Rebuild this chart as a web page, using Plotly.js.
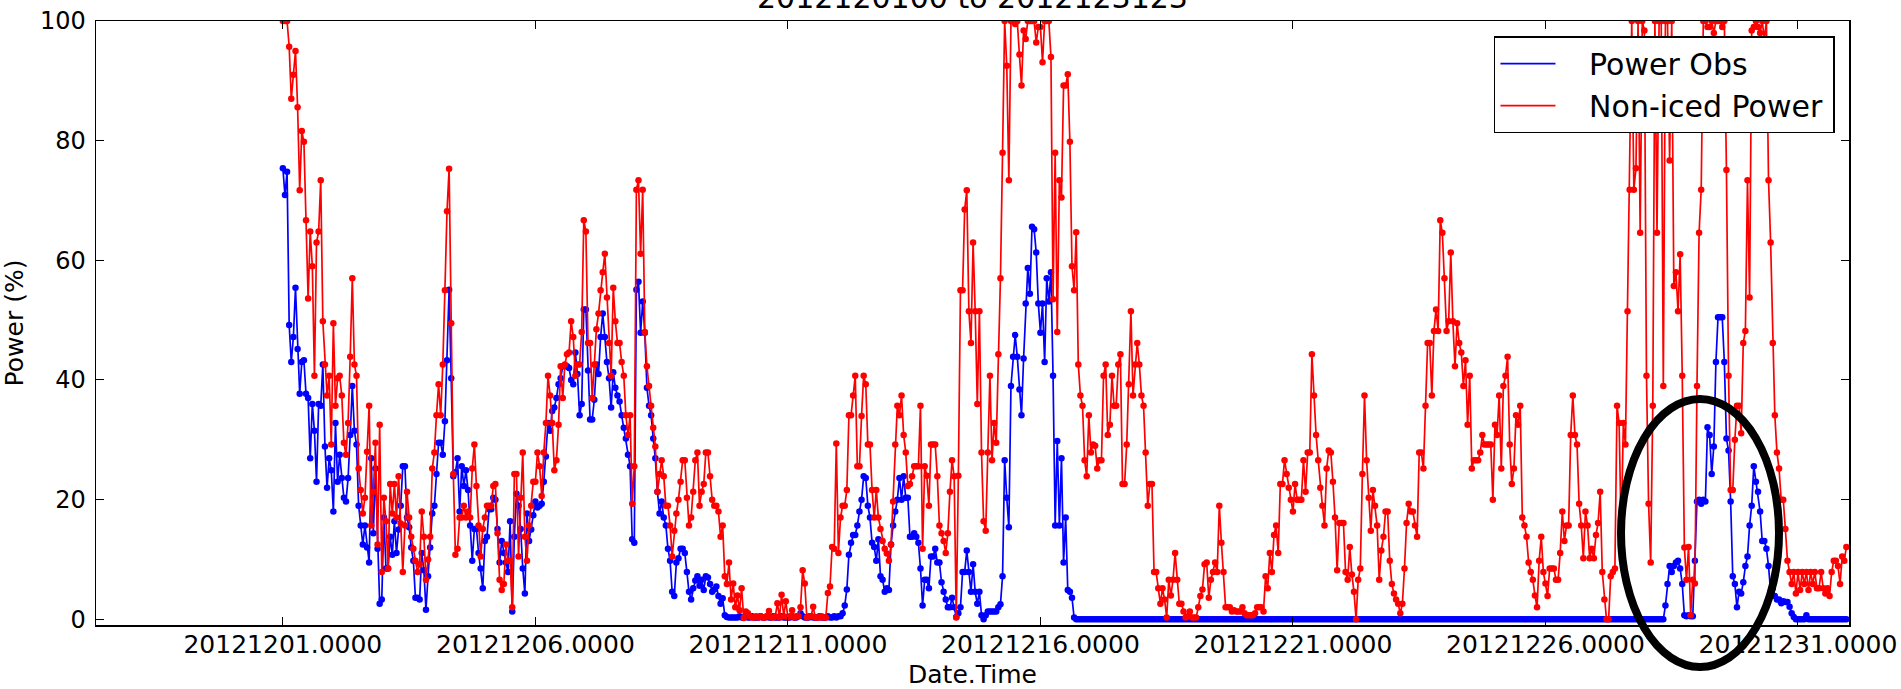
<!DOCTYPE html>
<html>
<head>
<meta charset="utf-8">
<script src="https://cdn.plot.ly/plotly-3.0.1.min.js"></script>
<style>
html, body { margin: 0; padding: 0; background: #ffffff; }
#chart { width: 1901px; height: 689px; }
</style>
</head>
<body>
<div id="chart"></div>
<script>
// ---------------- data ----------------
const days = [20121201,20121202,20121203,20121204,20121205,20121206,20121207,20121208,
  20121209,20121210,20121211,20121212,20121213,20121214,20121215,20121216,20121217,
  20121218,20121219,20121220,20121221,20121222,20121223,20121224,20121225,20121226,
  20121227,20121228,20121229,20121230,20121231];
const hoursPerDay = 24;

// Power Obs (%), one row per day, hourly 00..23
const powerObs = [
  75.4,70.9,74.8,49.2,43,47.2,55.4,45.2,37.7,43,43.3,37.7,37,26.9,36,31.5,23,36,35.7,42.6,28.9,22,26.9,24.9,
  18,32.8,23,27.5,23.6,20.3,19.7,23.6,30.8,39,31.5,29.2,19,15.7,12.5,15.7,12,9.5,26.9,14.4,25.2,11.8,2.6,3.3,
  17,8.5,8.5,13.8,10.8,16.4,11.1,15,19,25.6,25.6,17,15.4,12,9.8,3.6,3.6,3.3,11.1,8.2,1.6,7.2,12,17.7,
  19,24.3,29.5,29.5,27.5,33.1,43.3,55.1,40.3,23.9,24.6,26.9,18,25.6,22.3,24.9,21.6,15.7,9.8,15.1,15.1,11.1,8.5,5.2,
  13.1,13.8,18.4,18.4,20.3,20,15.1,9.5,13.1,11.1,9.5,7.9,16.4,1.3,13.8,21,19,15.1,8.5,4.3,17.7,13.1,15,17.4,
  19.7,18.7,19,19.3,23,27.2,32.8,31.5,34.8,35.4,37,39.3,40.3,42.3,42.3,42.3,42,40,39.3,44.6,41,34.1,36,51.8,
  51.8,41.6,33.4,33.4,36.7,42.6,41,47.2,51.1,47.2,43,40.3,35.4,41.3,38.7,37.4,36.4,34.1,32,30.2,27.5,25.6,13.4,12.8,
  55.1,56.4,47.9,53.1,47.9,38.7,35.7,34.1,30.2,26.9,21.3,17.7,19.7,17,15.7,11.8,9.8,4.6,3.9,9.5,10.2,11.8,11.8,11.1,
  7.9,4.6,3.3,5.2,6.5,7.2,5.6,6.6,4.9,7.2,7,5.9,4.6,5,5.5,3.9,2.6,3.5,0.7,0.4,0.3,0.3,0.3,0.3,
  0.3,0.5,0.3,0.3,0.5,0.3,0.3,0.5,0.3,0.3,0.3,0.5,0.3,0.3,0.5,0.3,0.3,0.5,0.3,0.3,0.3,0.5,0.3,0.3,
  0.3,0.3,0.5,0.3,0.3,0.5,1,0.5,0.3,0.3,0.3,0.5,0.3,0.3,0.3,0.5,0.3,0.3,0.3,0.5,0.3,0.3,0.5,0.3,
  0.5,0.5,1,2.3,5,10.8,12.8,14.1,14.1,15.7,18,20,23.9,23.6,19,17,12.8,12.1,9.8,13.4,7.2,6.6,4.6,5.2,
  4.9,12.5,15.7,18,20,23.6,20,23.9,20.3,20.3,13.8,13.8,14.4,13.8,12.8,8.5,2.3,6.6,6.6,5.2,10.5,10.5,11.8,9.5,
  9.5,6.2,4.6,3.3,2,2,3.6,2,0.4,1,2,7.9,7.9,11.5,7.9,4.6,9.2,4.6,2.6,4.6,0.7,0,0.7,1.3,
  1.3,1.3,1.3,1.3,2,2.5,7.2,26.6,20.3,15.4,39,43.9,47.5,43.9,38.4,34.1,43.6,52.8,58.7,54.4,65.6,65.2,61.3,52.8,
  47.9,52.8,43,57,53.1,58,40.7,15.7,29.8,15.7,26.9,9.5,17,4.9,4.6,3.6,0.3,0,0,0,0,0,0,0,
  0,0,0,0,0,0,0,0,0,0,0,0,0,0,0,0,0,0,0,0,0,0,0,0,
  0,0,0,0,0,0,0,0,0,0,0,0,0,0,0,0,0,0,0,0,0,0,0,0,
  0,0,0,0,0,0,0,0,0,0,0,0,0,0,0,0,0,0,0,0,0,0,0,0,
  0,0,0,0,0,0,0,0,0,0,0,0,0,0,0,0,0,0,0,0,0,0,0,0,
  0,0,0,0,0,0,0,0,0,0,0,0,0,0,0,0,0,0,0,0,0,0,0,0,
  0,0,0,0,0,0,0,0,0,0,0,0,0,0,0,0,0,0,0,0,0,0,0,0,
  0,0,0,0,0,0,0,0,0,0,0,0,0,0,0,0,0,0,0,0,0,0,0,0,
  0,0,0,0,0,0,0,0,0,0,0,0,0,0,0,0,0,0,0,0,0,0,0,0,
  0,0,0,0,0,0,0,0,0,0,0,0,0,0,0,0,0,0,0,0,0,0,0,0,
  0,0,0,0,0,0,0,0,0,0,0,0,0,0,0,0,0,0,0,0,0,0,0,0,
  0,0,0,0,0,0,0,0,0,0,0,0,0,0,0,0,0,0,0,0,0,0,0,0,
  0,0,0,0,0,0,0,0,0,2.3,5.9,8.9,7.9,8.9,9.5,9.8,8.5,5.9,0.7,0.5,0.7,0.5,0.5,9.8,
  19.7,20,19.3,20,19.7,32.1,30.8,24.3,28.9,43,50.5,50.5,50.5,43,30.2,28.2,19.7,7.2,5.9,2,4.6,4.3,6.2,8.9,
  10.5,15.7,19,25.6,23,21.3,18,13.1,13.1,11.8,8.9,4.6,5.2,3.9,3.3,3.3,2.7,3,2.9,2.9,2.1,1,0.4,0,
  0,0,0,0,0.7,0,0,0,0,0,0,0,0,0,0,0,0,0,0,0,0,0,0,0
];

// Non-iced Power (%), one row per day, hourly 00..23
const nonIcedPower = [
  100,100,100,95.7,87,91,95,85.6,71.7,81.6,79.8,66.7,53.6,64.8,59,40.7,63,64.8,73.4,49.8,42.6,37.4,40.7,29.2,
  49.5,35.7,40.3,40.7,37.4,29.5,27.5,32.8,43.9,57,42.6,40.7,25.2,21.6,17.7,20.3,28,35.7,15.7,21.3,29.5,12.5,32.5,7.9,
  20.3,16.4,8.5,22.6,17.7,22.6,17,23.9,16,7.9,15.7,21.3,17,13.8,11.8,9.8,7.9,9.2,18,13.8,6.6,10,13.8,25.2,
  27.9,34.1,39.3,34.1,42.6,55,68.2,75.3,49.5,24.3,10.8,11.8,17,17,19,17,18,17,25.2,29.2,22.3,15.7,10.5,15.1,
  17,19,19,19,22.3,22.6,14.4,6.6,4.9,5.9,12.5,9.8,9.8,2,24.3,24.3,10.5,20.3,27.9,13.8,9.8,15.7,19,23,
  23,27.9,25.6,20.6,27.9,32.8,40.7,37.4,32.8,24.9,26.6,32.5,42.3,37,42.6,44.3,44.6,49.8,47.2,40.7,42.6,42.6,48,66.7,
  64.8,46.2,46.2,37,42.6,48.5,51.1,55,58,61.1,53.8,46.2,40.7,55.4,49.8,46.2,46.2,43,40.7,34.1,30.8,34.1,19.3,25.6,
  71.8,73.4,61.1,71.8,48,42.3,39,35.7,32,28.9,21.3,24.3,26.6,23.9,19,19,15.7,10.5,14.8,17.7,20,23,26.6,26.6,
  20.3,15.7,17,21.3,26.6,27.9,19,21.3,22.6,27.9,27.9,23.9,20,19,19,18,13.8,15.7,7.2,5.9,9.5,3.3,6,2,
  4,1.5,5.2,0.2,1.3,1,0.5,0.3,0.3,0.5,0.3,0.5,0.3,0.3,0.5,1.4,0.3,0.3,0.5,2.7,0.3,4.1,0.5,3,
  0.3,0.5,1.5,0.3,0.5,0.5,2,8.2,6,0.3,0.5,0.5,2.1,0.3,0.3,0.3,0.5,0.3,0.3,4.4,5.5,12.1,11.8,29.4,
  11.1,17,19,19,21.6,34.1,34.1,37.4,40.7,25.6,25.6,34,40.7,39.3,29.2,29.2,21.6,17,21.6,17,15.1,13.1,11.8,11,
  9.8,12.5,19.7,29.2,35.7,34.1,37.4,30.8,27.9,22.3,22.6,23.9,25.6,25.6,25.6,35.7,11.8,25.6,24,19,29.2,29.2,29.2,23.9,
  15.7,14.4,13.1,11.1,14.4,21.3,26.6,23.9,0.3,24,55,55,68.5,71.7,51.5,46.2,63,51.5,36,51.5,27.9,16.4,14.8,27.9,
  40.7,26.6,32.8,29.5,44.3,57,78,100,92.5,73.4,100,100,99.5,100,94.4,89.2,98.4,97,100,100,100,100,96.4,99,
  99,93.1,100,100,100,94,53.5,78,48,73.4,70.5,89.2,89.2,91.1,79.8,59,55,64.7,42.6,37.4,35.7,26.6,23.9,34.1,
  27.9,29.2,29,25.2,26.6,26.6,40.7,42.6,30.8,32.5,40.7,35.7,35.7,42.6,44.3,22.6,22.6,29.2,39.3,51.5,37.4,42.6,46.2,42.6,
  37.4,35.7,27.9,19,22.6,22.6,7.9,7.9,5.2,2.6,5.2,3.3,0.3,6.6,4,6.6,11.1,6.6,2.6,2.6,1.3,0.3,0.5,1.3,
  0.3,0.3,0.3,2,3.9,5,9.2,9.5,3.6,6.6,7.9,9.5,7.9,19,12.8,7.9,2,2,2,1.3,1.5,1.3,1.3,1.3,
  2,1,0.7,0.7,0.7,0.7,1,2,2,2,1.3,7.2,5.2,11.1,7.9,14.1,15.7,11.1,22.6,22.6,26.6,24.3,22,20,
  18,22.6,20,20,20,26.6,21.3,27.9,27.9,44.3,37.4,30.8,26.6,22,19,15.7,25.2,28.2,27.9,23,17,8.2,16.1,16.1,
  16.1,7.9,6.6,12.1,7.5,4.6,0,6.6,8.5,24.3,37.4,26.6,20.3,14.8,21.6,19,15.7,6.6,11.5,13.8,18,18,9.8,5.9,
  4.3,3.3,2.6,1,2.6,8.5,16.1,19.3,18,18,15.7,13.8,27.9,27.9,25.2,35.7,46.2,46.2,37.4,48.2,51.8,48.2,66.7,64.6,
  57,48.2,49.8,61.3,49.8,42.3,49.5,46.2,44.6,39,43.3,32.5,40.7,25.2,26.6,26.6,26.6,27.9,30.8,29.2,29.2,29.2,29.2,20,
  32.5,30.8,37.4,25.2,39,40.7,43.9,29.2,22.6,25.2,34.1,32.5,35.7,17,15.7,13.8,9.5,7.9,6.6,4,2,9.8,13.8,7.9,
  6,3.9,8.5,8.5,8.5,6.6,6.6,11.1,18,13.1,15.7,15.7,30.8,37.4,30.8,29.2,19.3,15.7,10.2,18,15.7,10.2,11.8,10.2,
  14.1,16.1,21.3,7.9,3.3,0,0,7.2,7.9,8.5,35.7,32.8,13.8,32.8,29.2,51.5,71.8,100,71.8,75.4,100,64.6,100,98.4,
  40.7,19.3,9.5,35.7,100,64.6,100,100,39,100,100,76.7,100,55.7,58,51.5,61,40.7,12,6.6,12.1,0.7,6.6,6,
  39,64.6,71.8,100,100,99,99,100,98,100,100,100,99,100,75.1,40.7,21.6,21.6,30,35.7,35.7,31.1,46.2,48.2,
  73.4,53.8,98.4,99,100,99,98,100,97,100,73.4,63,46.2,34.1,27.9,25.2,20,20,15.1,9.8,7.9,5.9,7.9,4.3,
  7.9,4.9,7.9,5.9,7.9,4.9,7.9,5.9,7.9,5.2,5.2,7.9,5.2,4.3,5.2,3.9,7.9,9.8,9.8,8.9,5.9,10.5,9.8,12.1
];

const seriesNames = ['Power Obs', 'Non-iced Power'];
const titleText = '2012120100 to 2012123123';
const xTitle = 'Date.Time';
const yTitle = 'Power (%)';

// Date.Time for each hourly sample (day number + fraction of the day)
const dateTime = [];
days.forEach(d => { for (let h = 0; h < hoursPerDay; h++) dateTime.push(d + h / hoursPerDay); });

// ---------------- styling ----------------
const FONT = 'DejaVu Sans, Bitstream Vera Sans, sans-serif';
const BLUE = '#0000ff', RED = '#ff0000';
const LEGEND_PAD = '\u00a0\u00a0\u00a0';
const LEGEND_TAIL = '\u2009';

function lineTrace(y, color, name) {
  return { x: dateTime, y: y, type: 'scatter', mode: 'lines', name: LEGEND_PAD + name + LEGEND_TAIL,
           line: { color: color, width: 1.7 }, hoverinfo: 'skip', showlegend: true };
}
function dotTrace(y, color, name) {
  return { x: dateTime, y: y, type: 'scatter', mode: 'markers', name: name,
           marker: { color: color, size: 6.5, line: { width: 0 } }, hoverinfo: 'skip', showlegend: false };
}

const traces = [
  lineTrace(powerObs, BLUE, seriesNames[0]), dotTrace(powerObs, BLUE, seriesNames[0]),
  lineTrace(nonIcedPower, RED, seriesNames[1]), dotTrace(nonIcedPower, RED, seriesNames[1])
];

const axisCommon = {
  showgrid: false, zeroline: false, showline: true, linecolor: '#000', linewidth: 1.5,
  mirror: 'ticks', ticks: 'inside', ticklen: 8, tickwidth: 1, tickcolor: '#000'
};

const layout = {
  width: 1901, height: 689,
  margin: { l: 96, r: 52, t: 21, b: 64, pad: 0 },
  paper_bgcolor: '#fff', plot_bgcolor: '#fff',
  font: { family: FONT, color: '#000' },
  xaxis: Object.assign({}, axisCommon, {
    range: [20121197.30, 20121232.01], tick0: 20121201, dtick: 5, tickformat: '.4f',
    tickfont: { family: FONT, size: 25, color: '#000' },
    ticklabelstandoff: -4,
    title: { text: xTitle, font: { family: FONT, size: 25, color: '#000' }, standoff: 23 }
  }),
  yaxis: Object.assign({}, axisCommon, {
    range: [-0.95, 100], tick0: 0, dtick: 20,
    tickfont: { family: FONT, size: 24, color: '#000' },
    ticklabelstandoff: 4,
    title: { text: yTitle, font: { family: FONT, size: 25, color: '#000' }, standoff: 10 }
  }),
  legend: {
    x: 0.992, xanchor: 'right', y: 0.975, yanchor: 'top',
    bgcolor: '#fff', bordercolor: '#000', borderwidth: 1.5,
    font: { family: FONT, size: 30, color: '#000' },
    itemwidth: 55, tracegroupgap: 0
  },
  annotations: [{
    text: titleText, xref: 'paper', yref: 'paper', x: 0.5, y: 1,
    xanchor: 'center', yanchor: 'bottom', yshift: 3.5, showarrow: false,
    font: { family: FONT, size: 30, color: '#000' }
  }],
  shapes: [{
    type: 'circle', xref: 'paper', yref: 'paper', layer: 'above',
    x0: 0.86994, x1: 0.96007, y0: -0.06954, y1: 0.37417,
    line: { color: '#000', width: 8 }, fillcolor: 'rgba(0,0,0,0)'
  }],
  showlegend: true
};

Plotly.newPlot('chart', traces, layout, { staticPlot: true, displayModeBar: false });
</script>
</body>
</html>
